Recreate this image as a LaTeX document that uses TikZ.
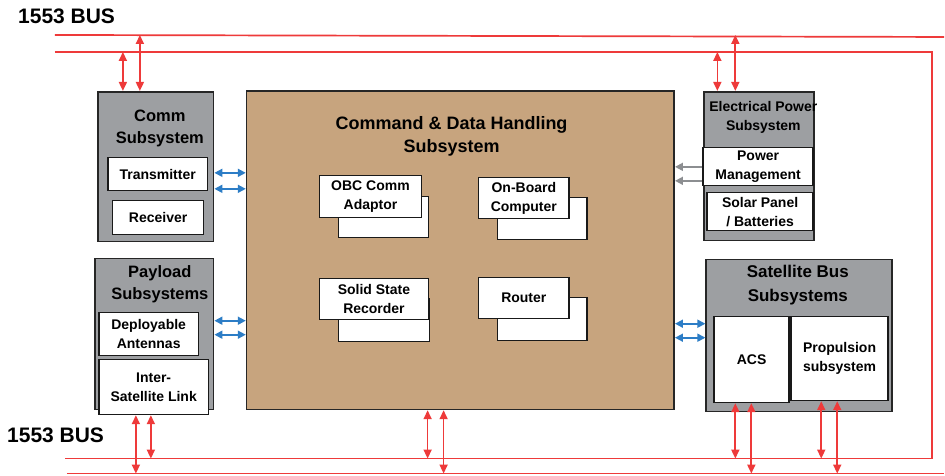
\documentclass[tikz,border=0pt]{standalone}
\usepackage{fontspec}
\setmainfont{Liberation Sans}
\usetikzlibrary{positioning,arrows.meta}
\definecolor{sysgray}{HTML}{9D9FA2}
\definecolor{cdhtan}{HTML}{C7A47E}
\definecolor{busred}{HTML}{EE3A3A}
\definecolor{linkblue}{HTML}{2C7DC6}
\definecolor{pwrgray}{HTML}{8C8E91}
\tikzset{
	sysbox/.style={draw=black!85,line width=1.6pt,fill=sysgray,anchor=north west,inner sep=0pt},
	cdhbox/.style={sysbox,fill=cdhtan},
	unit/.style={draw=black!90,line width=1.6pt,fill=white,anchor=north west,inner sep=0pt,align=center,font=\fontsize{14}{19}\selectfont\bfseries},
	systitle/.style={align=center,inner sep=0pt,font=\fontsize{16.5}{22}\selectfont\bfseries},
	buslabel/.style={anchor=west,inner sep=0pt,font=\fontsize{21}{24}\selectfont\bfseries},
	busline/.style={busred,line width=1.7pt},
	busarrow/.style={busred,line width=1.7pt,{Triangle[length=9pt,width=8pt]}-{Triangle[length=9pt,width=8pt]}},
	linkarrow/.style={linkblue,line width=1.7pt,{Triangle[length=8pt,width=8pt]}-{Triangle[length=8pt,width=8pt]}},
	pwrarrow/.style={pwrgray,line width=1.7pt,-{Triangle[length=8pt,width=8pt]}},
}
\begin{document}
\begin{tikzpicture}[x=1pt,y=-1pt]
		\fill[white] (0,0) rectangle (945,476);
		
		% bus lines
		\coordinate (topA-w) at (55,35);
		\coordinate (topA-e) at (945,37);
		\coordinate (topB-w) at (55,52);
		\coordinate (topB-e) at (933,52);
		\coordinate (botB-e) at (933,459);
		\coordinate (botB-w) at (65,459);
		\coordinate (botA-w) at (67,474);
		\coordinate (botA-e) at (945,474);
		\draw[busline] (topA-w)--(topA-e);
		\draw[busline] (topB-w)--(topB-e)--(botB-e)--(botB-w);
		\draw[busline] (botA-w)--(botA-e);
		
		\node[buslabel] (bus1) at (18,16) {1553 BUS};
		\node[buslabel] (bus2) at (7,436) {1553 BUS};
		
		% comm subsystem
		\node[sysbox,minimum width=116pt,minimum height=150pt] (comm) at (97,91) {};
		\node[systitle] (commt) at (160,129) {Comm\\Subsystem};
		\node[unit,minimum width=100pt,minimum height=33pt] (tx) at (107,157) {Transmitter};
		\node[unit,minimum width=91pt,minimum height=34pt] (rx) at (112,200) {Receiver};
		
		% payload
		\node[sysbox,minimum width=119pt,minimum height=151pt] (pay) at (94,258) {};
		\node[systitle] (payt) at (160,284.5) {Payload\\Subsystems};
		\node[unit,minimum width=100pt,minimum height=43pt] (ant) at (98,312) {Deployable\\Antennas};
		\node[unit,minimum width=110pt,minimum height=55pt] (isl) at (98,359) {Inter-\\Satellite Link};
		
		% command and data handling
		\node[cdhbox,minimum width=428pt,minimum height=319pt] (cdh) at (246,90) {};
		\node[systitle,font=\fontsize{18}{23}\selectfont\bfseries] (cdht) at (452,136.5) {Command \& Data Handling\\Subsystem};
		
		\node[unit,minimum width=90pt,minimum height=41pt] (obcb) at (338,196) {};
		\node[unit,minimum width=102pt,minimum height=42pt] (obc) at (319,175) {OBC Comm\\Adaptor};
		\node[unit,minimum width=90pt,minimum height=42pt] (compb) at (497,197) {};
		\node[unit,minimum width=91pt,minimum height=41pt] (comp) at (478,177) {On-Board\\Computer};
		\node[unit,minimum width=91pt,minimum height=43pt] (ssrb) at (338,298) {};
		\node[unit,minimum width=109pt,minimum height=41pt] (ssr) at (319,278) {Solid State\\Recorder};
		\node[unit,minimum width=90pt,minimum height=43pt] (rtb) at (497,297) {};
		\node[unit,minimum width=91pt,minimum height=41pt] (rt) at (478,277) {Router};
		
		% electrical power
		\node[sysbox,minimum width=110pt,minimum height=149pt] (eps) at (704,91) {};
		\node[systitle,font=\fontsize{14}{19}\selectfont\bfseries] (epst) at (764,117.5) {Electrical Power\\Subsystem};
		\node[unit,minimum width=110pt,minimum height=38pt] (pm) at (703,147) {Power\\Management};
		\node[unit,minimum width=106pt,minimum height=38pt] (sol) at (707,192) {Solar Panel\\/ Batteries};
		
		% satellite bus
		\node[sysbox,minimum width=186pt,minimum height=152pt] (sb) at (706,259) {};
		\node[systitle,font=\fontsize{17}{24}\selectfont\bfseries] (sbt) at (798.5,285) {Satellite Bus\\Subsystems};
		\node[unit,minimum width=75pt,minimum height=86pt] (acs) at (714,316) {ACS};
		\node[unit,minimum width=97pt,minimum height=84pt] (prop) at (791,316) {Propulsion\\subsystem};
		
		% links to the bus
		\foreach \x/\b in {123/topB-w,140/topA-w}
			\draw[busarrow] (comm.north -| \x,0)--(\b -| \x,0);
		\foreach \x/\b in {718/topB-w,736/topA-w}
			\draw[busarrow] (eps.north -| \x,0)--(\b -| \x,0);
		\foreach \x/\b in {136/botA-w,151/botB-w}
			\draw[busarrow] (isl.south -| \x,0)--(\b -| \x,0);
		\foreach \x/\b in {428/botB-w,444/botA-w}
			\draw[busarrow] (cdh.south -| \x,0)--(\b -| \x,0);
		\foreach \x/\b in {736/botB-w,752/botA-w}
			\draw[busarrow] (acs.south -| \x,0)--(\b -| \x,0);
		\foreach \x/\b in {822/botB-w,838/botA-w}
			\draw[busarrow] (prop.south -| \x,0)--(\b -| \x,0);
		
		% links to the cdh
		\foreach \y in {173,189}
			\draw[linkarrow] (comm.east |- 0,\y)--(cdh.west |- 0,\y);
		\foreach \y in {321,335}
			\draw[linkarrow] (pay.east |- 0,\y)--(cdh.west |- 0,\y);
		\foreach \y in {324,338}
			\draw[linkarrow] (cdh.east |- 0,\y)--(sb.west |- 0,\y);
		\foreach \y in {167,181}
			\draw[pwrarrow] (pm.west |- 0,\y)--(cdh.east |- 0,\y);
	\end{tikzpicture}
\end{document}
